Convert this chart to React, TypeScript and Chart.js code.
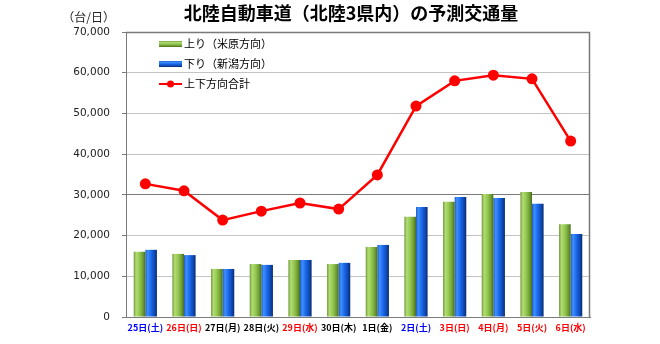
import React, { useEffect, useRef } from "react";
import { Chart, registerables } from "chart.js";

Chart.register(...registerables);

const categories = ["25日(土)", "26日(日)", "27日(月)", "28日(火)", "29日(水)", "30日(木)", "1日(金)", "2日(土)", "3日(日)", "4日(月)", "5日(火)", "6日(水)"];
const categoryColors = ["#0000ff", "#ff0000", "#000000", "#000000", "#ff0000", "#000000", "#000000", "#0000ff", "#ff0000", "#ff0000", "#ff0000", "#ff0000"];
const upValues = [16000, 15500, 11800, 13000, 14000, 13000, 17200, 24600, 28300, 30200, 30700, 22800];
const downValues = [16500, 15200, 11800, 12800, 14000, 13300, 17700, 27000, 29500, 29200, 27800, 20400];
const totalValues = [32700, 31000, 23800, 26000, 28000, 26500, 34900, 51800, 58000, 59400, 58500, 43200];
const seriesNames = ["上り（米原方向）", "下り（新潟方向）", "上下方向合計"];
const titleText = "北陸自動車道（北陸3県内）の予測交通量";
const unitText = "（台/日）";
const yMax = 70000;
const yStep = 10000;

const greenStops: [number, string][] = [[0, "#6b9636"], [0.2, "#b3dc74"], [0.5, "#93c850"], [0.8, "#6e9c34"], [1, "#466a1e"]];
const blueStops: [number, string][] = [[0, "#1c5cc4"], [0.2, "#3f8fff"], [0.5, "#1a68e8"], [0.8, "#0e48b2"], [1, "#0a2a6c"]];

function barGradient(ctx: any, dsIndex: number, stops: [number, string][]) {
  const chart = ctx.chart;
  const xs = chart.scales && chart.scales.x;
  if (ctx.type !== "data" || !xs || !xs.width) return stops[2][1];
  const center = xs.getPixelForValue(ctx.dataIndex);
  const cw = xs.width / categories.length;
  const bw = (cw * 0.6) / 2;
  const left = dsIndex === 0 ? center - bw : center;
  const g = chart.ctx.createLinearGradient(left, 0, left + bw, 0);
  stops.forEach(([o, c]) => g.addColorStop(o, c));
  return g;
}

const decorPlugin = {
  id: "decor",
  beforeDraw(chart: any) {
    const c = chart.ctx;
    c.save();
    c.fillStyle = "#ffffff";
    c.fillRect(0, 0, chart.width, chart.height);
    c.restore();
  },
  afterDraw(chart: any) {
    const c = chart.ctx;
    const a = chart.chartArea;
    c.save();
    c.strokeStyle = "#7a7a7a";
    c.lineWidth = 1.5;
    c.beginPath();
    c.moveTo(a.left, a.top + 0.5);
    c.lineTo(a.right - 0.5, a.top + 0.5);
    c.lineTo(a.right - 0.5, a.bottom);
    c.stroke();
    c.fillStyle = "#000000";
    c.font = "bold 18px 'Noto Sans CJK JP'";
    c.textAlign = "center";
    c.textBaseline = "middle";
    c.fillText(titleText, 351, 13);
    c.font = "12px 'Noto Sans CJK JP'";
    c.textAlign = "right";
    c.fillStyle = "#222222";
    c.fillText(unitText, 115, 17);
    const lx = 159;
    const rows = [44, 64, 84];
    c.font = "11px 'Noto Sans CJK JP'";
    c.textAlign = "left";
    c.fillStyle = "#000000";
    const drawSwatch = (y: number, stops: [number, string][]) => {
      const g = c.createLinearGradient(0, y - 3, 0, y + 3);
      stops.forEach(([o, col]) => g.addColorStop(o, col));
      c.fillStyle = g;
      c.fillRect(lx, y - 3, 23, 6);
    };
    drawSwatch(rows[0], greenStops);
    drawSwatch(rows[1], blueStops);
    c.strokeStyle = "#ff0000";
    c.lineWidth = 2;
    c.beginPath();
    c.moveTo(lx, rows[2]);
    c.lineTo(lx + 23, rows[2]);
    c.stroke();
    c.fillStyle = "#ff0000";
    c.beginPath();
    c.arc(lx + 11.5, rows[2], 3.5, 0, Math.PI * 2);
    c.fill();
    c.fillStyle = "#000000";
    seriesNames.forEach((n, i) => c.fillText(n, lx + 25, rows[i]));
    c.restore();
  },
};

export default function App() {
  const ref = useRef<HTMLCanvasElement | null>(null);
  useEffect(() => {
    if (!ref.current) return;
    const chart = new Chart(ref.current, {
      type: "bar",
      data: {
        labels: categories,
        datasets: [
          {
            type: "line",
            label: seriesNames[2],
            data: totalValues,
            borderColor: "#ff0000",
            backgroundColor: "#ff0000",
            borderWidth: 2.5,
            pointRadius: 5.5,
            pointBackgroundColor: "#ff0000",
            pointBorderWidth: 0,
            tension: 0,
            order: 0,
          } as any,
          {
            type: "bar",
            label: seriesNames[0],
            data: upValues,
            backgroundColor: (ctx: any) => barGradient(ctx, 0, greenStops),
            borderWidth: 0,
            barPercentage: 1,
            categoryPercentage: 0.6,
            order: 1,
          },
          {
            type: "bar",
            label: seriesNames[1],
            data: downValues,
            backgroundColor: (ctx: any) => barGradient(ctx, 1, blueStops),
            borderWidth: 0,
            barPercentage: 1,
            categoryPercentage: 0.6,
            order: 1,
          },
        ],
      },
      options: {
        animation: false,
        responsive: false,
        maintainAspectRatio: false,
        layout: { padding: { left: 0, top: 32, right: 70, bottom: 0 } },
        plugins: { legend: { display: false }, title: { display: false }, tooltip: { enabled: false } },
        scales: {
          x: {
            grid: { display: false, drawTicks: false },
            border: { display: true, color: "#7a7a7a", width: 1 },
            ticks: {
              color: categoryColors,
              font: { size: 9, weight: "bold", family: "'Noto Sans CJK JP'" },
              padding: 5,
              maxRotation: 0,
              autoSkip: false,
            },
            afterFit: (s: any) => {
              s.height = 27;
            },
          },
          y: {
            min: 0,
            max: yMax,
            ticks: {
              stepSize: yStep,
              color: "#222222",
              font: { size: 10.5, family: "'DejaVu Sans'" },
              padding: 12,
              callback: (v: any) => Number(v).toLocaleString("en-US"),
            },
            grid: {
              color: (ctx: any) => (ctx.tick && ctx.tick.value === 30000 ? "#7a7a7a" : "#c4c4c4"),
              lineWidth: 1,
              tickLength: 4,
              tickColor: "#7a7a7a",
            },
            border: { display: true, color: "#7a7a7a", width: 1 },
            afterFit: (s: any) => {
              s.width = 126;
            },
          },
        },
      },
      plugins: [decorPlugin],
    });
    return () => chart.destroy();
  }, []);
  return (
    <div style={{ position: "absolute", left: 0, top: 0, width: 660, height: 344, background: "#ffffff" }}>
      <canvas ref={ref} width={660} height={344} style={{ width: 660, height: 344, display: "block" }} />
    </div>
  );
}
